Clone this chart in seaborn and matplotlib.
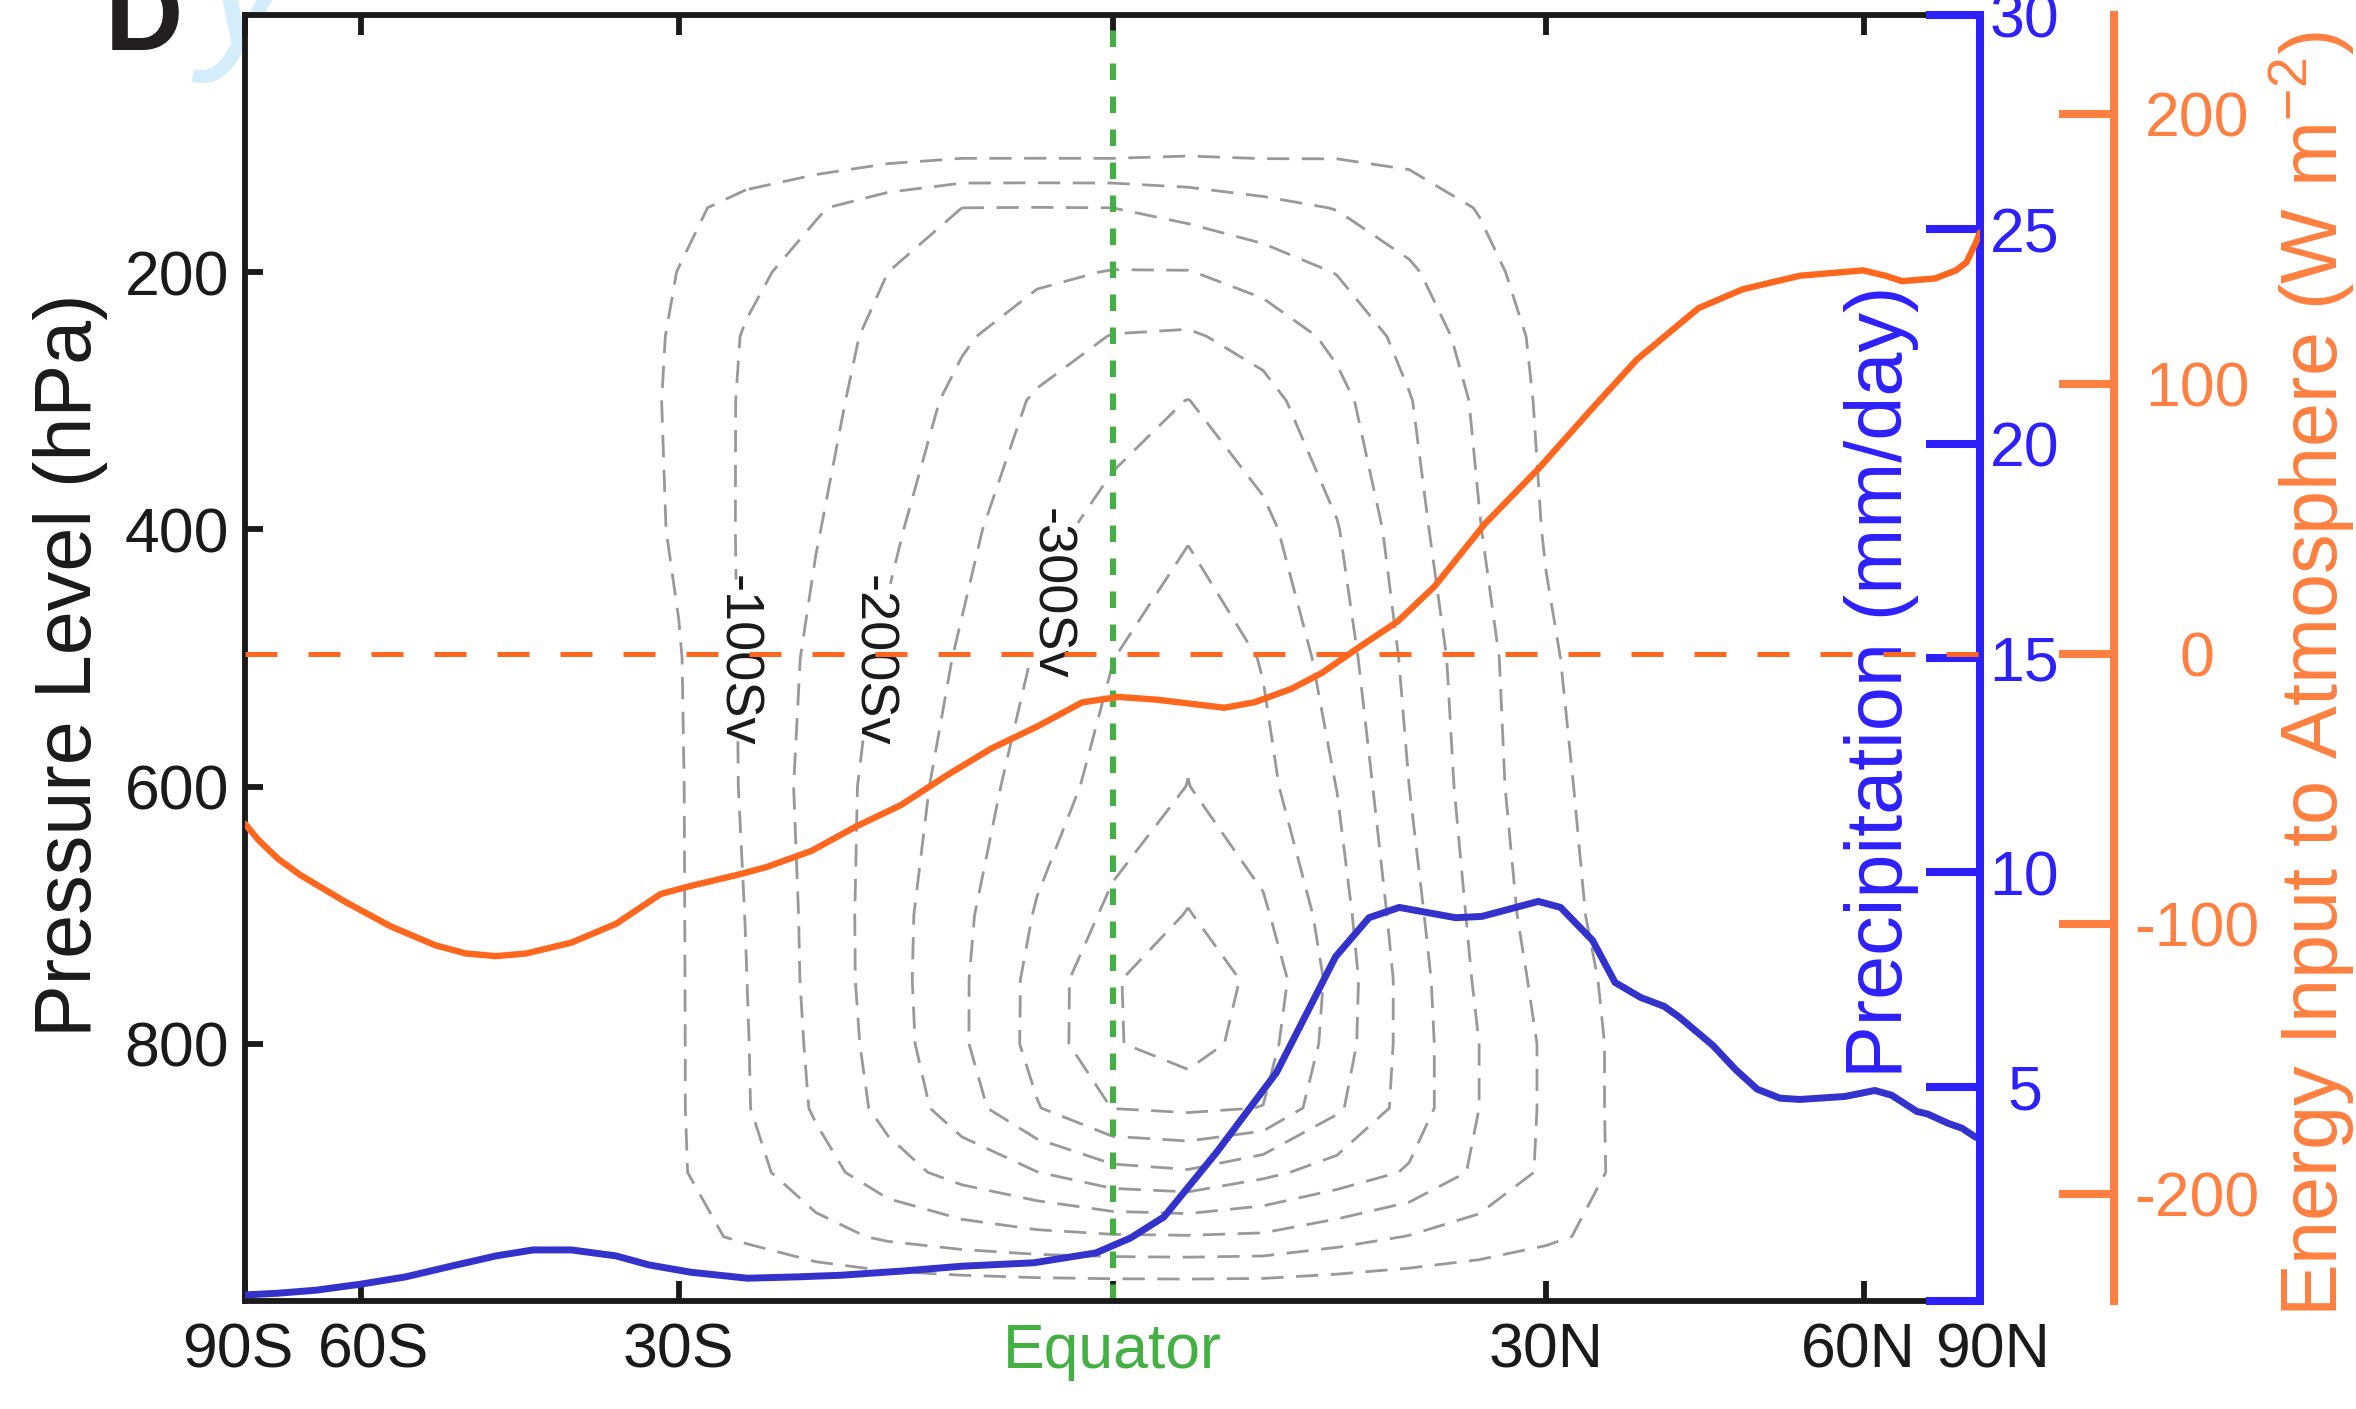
import numpy as np
import matplotlib
matplotlib.use("Agg")
import matplotlib.pyplot as plt
import matplotlib.transforms as mtransforms
import seaborn as sns

# mass streamfunction (Sv), rows = pressure levels (hPa), columns = latitude (deg)
psi_lat = [-40, -35, -30, -25, -20, -15, -10, -5, 0, 5, 10, 15, 20, 25, 30, 35, 40]
psi_plev = [100, 150, 200, 250, 300, 400, 500, 600, 700, 750, 800, 850, 900, 950, 1000]
psi = [
    [-2, -5, -8, -9, -8, -15, -20, -20, -20, -30, -30, -35, -35, -25, -12, -5, -2],
    [-3, -15, -38, -66, -95, -127, -150, -151, -150, -133, -115, -98, -72, -48, -25, -10, -3],
    [-6, -22, -51, -88, -120, -150, -170, -191, -202, -202, -178, -148, -107, -63, -30, -12, -4],
    [-5, -20, -58, -104, -132, -162, -194, -225, -252, -256, -232, -188, -133, -78, -38, -16, -5],
    [-5, -20, -61, -107, -136, -170, -213, -256, -279, -301, -266, -215, -153, -91, -40, -18, -5],
    [-6, -22, -57, -108, -147, -190, -237, -284, -317, -345, -312, -253, -169, -102, -46, -20, -6],
    [-8, -25, -47, -108, -162, -210, -256, -304, -349, -385, -347, -276, -187, -118, -58, -22, -8],
    [-10, -28, -45, -107, -170, -222, -272, -326, -368, -401, -364, -299, -200, -122, -65, -30, -12],
    [-10, -28, -45, -101, -166, -229, -289, -354, -411, -453, -408, -322, -218, -134, -74, -35, -15],
    [-10, -28, -45, -99, -165, -229, -293, -366, -445, -485, -434, -331, -227, -141, -84, -42, -18],
    [-10, -28, -45, -97, -161, -225, -293, -367, -445, -478, -420, -327, -228, -150, -92, -46, -20],
    [-10, -28, -45, -96, -156, -216, -276, -347, -401, -408, -399, -308, -228, -150, -92, -46, -20],
    [-10, -30, -45, -83, -130, -179, -218, -249, -285, -295, -262, -229, -195, -140, -91, -47, -20],
    [-5, -15, -38, -56, -82, -108, -125, -138, -145, -147, -143, -120, -98, -78, -58, -38, -15],
    [0, 0, 0, 0, 0, 0, 0, 0, 0, 0, 0, 0, 0, 0, 0, 0, 0],
]
psi_levels = [-450, -400, -350, -300, -250, -200, -150, -100, -50]

# zonal mean precipitation (mm/day)
precip_lat = [-90, -74.1, -66.7, -60.1, -54.6, -49.7, -45.3, -41.9, -38.6, -34.9,
              -32.3, -29.1, -24.9, -21.4, -18.2, -13.9, -10.0, -5.2, -1.1, 1.2,
              3.4, 6.9, 10.9, 14.9, 17.2, 19.3, 23.3, 25.2, 29.4, 31.1,
              33.6, 35.4, 37.5, 39.5, 40.8, 43.8, 45.9, 48.0, 50.3, 52.4,
              57.6, 61.5, 63.9, 68.0, 70.0, 74.5, 78.3, 84.2, 90]
precip = [0.14, 0.18, 0.25, 0.39, 0.56, 0.81, 1.05, 1.19, 1.19, 1.05,
          0.84, 0.67, 0.53, 0.56, 0.60, 0.70, 0.81, 0.89, 1.12, 1.47,
          1.96, 3.47, 5.33, 8.03, 8.94, 9.18, 8.94, 8.97, 9.32, 9.18,
          8.41, 7.43, 7.08, 6.87, 6.62, 5.96, 5.40, 4.94, 4.73, 4.70,
          4.77, 4.91, 4.80, 4.42, 4.36, 4.14, 4.03, 3.82, 3.79]

# net energy input to the atmosphere (W m-2)
energy_lat = [-90, -79.9, -74.1, -69.4, -62.1, -56.3, -51.3, -48.2, -45.3, -42.5,
              -38.6, -34.9, -31.4, -29.1, -25.7, -23.5, -20.3, -17.2, -14.1, -11.0,
              -8.0, -5.0, -2.0, 0.4, 2.9, 5.9, 7.4, 9.4, 11.9, 14.0,
              16.4, 19.2, 21.8, 25.4, 29.5, 33.6, 37.2, 42.5, 46.6, 52.4,
              59.9, 63.0, 65.5, 71.5, 76.5, 79.9, 84.2, 90]
energy = [-63, -69, -76, -82, -92, -101, -108, -111, -112, -111,
          -107, -100, -89, -86, -82, -79, -73, -64, -56, -45,
          -35, -27, -18, -16, -17, -19, -20, -18, -13, -7,
          2, 12, 25, 48, 69, 91, 109, 128, 135, 140,
          142, 140, 138, 139, 142, 145, 152, 156]

xtick_lat = [-90, -60, -30, 0, 30, 60, 90]
xtick_labels = ['90S', '60S', '30S', 'Equator', '30N', '60N', '90N']
p_ticks = [200, 400, 600, 800]
precip_ticks = [0, 5, 10, 15, 20, 25, 30]
precip_labels = ['', '5', '10', '15', '20', '25', '30']
energy_ticks = [-200, -100, 0, 100, 200]

BLUE_AX = '#2d20ff'
BLUE_LINE = '#3333cc'
ORANGE_AX = '#ff8040'
ORANGE_LINE = '#ff671f'
GREEN = '#44b044'
GREY = '#999999'
INK = '#1a1a1a'

sns.set_theme(style='white')
plt.rcParams['font.family'] = ['Liberation Sans', 'DejaVu Sans']
plt.rcParams['mathtext.fontset'] = 'custom'
plt.rcParams['mathtext.rm'] = 'Liberation Sans'
plt.rcParams['axes.unicode_minus'] = False


def sinlat(lat):
    return np.sin(np.radians(np.asarray(lat, dtype=float)))


fig = plt.figure(figsize=(11.78, 7.045), dpi=200)
ax = fig.add_axes([0.104, 0.0767, 0.7364, 0.9127])

# streamfunction contours, labelled on the -100, -200 and -300 lines
cs = ax.contour(sinlat(psi_lat), psi_plev, np.array(psi, dtype=float), levels=psi_levels,
                colors=GREY, linewidths=1.0, linestyles=[(0, (8, 4.5))])
label_at = [(-25.9, 502), (-16.1, 502), (-3.0, 459)]
texts = ax.clabel(cs, inline=True, inline_spacing=4, fmt='%dSv', fontsize=19.5, colors=INK,
                  manual=[(float(sinlat(la)), p) for la, p in label_at])
for t in texts:
    t.set_rotation(270)

ax.axvline(0, color=GREEN, lw=2.2, dashes=(2.7, 2.7))

ax.set_xlim(-1, 1)
ax.set_ylim(1000, 0)
ax.set_xticks(sinlat(xtick_lat))
ax.set_xticklabels(xtick_labels)
ax.set_yticks(p_ticks)
ax.tick_params(axis='x', direction='in', length=7.2, width=2.1, top=True, bottom=True,
               labelsize=22.5, pad=7.5, colors=INK)
ax.tick_params(axis='y', direction='in', length=6.5, width=2.1, labelsize=22.5,
               pad=5.8, colors=INK)
ax.get_xticklabels()[3].set_color(GREEN)
# crowded pole labels are pushed apart a little, as in the original
for lab, dx in zip(ax.get_xticklabels(), [-7, 12, 0, 0, 0, -5, 13]):
    lab.set_transform(lab.get_transform()
                      + mtransforms.ScaledTranslation(dx / 200, 0, fig.dpi_scale_trans))
for side in ['top', 'bottom', 'left']:
    ax.spines[side].set_color(INK)
    ax.spines[side].set_linewidth(2.1)
ax.spines['right'].set_visible(False)
ax.set_ylabel('Pressure Level (hPa)', fontsize=28.5, color=INK, va='center')
ax.yaxis.set_label_coords(-0.1007, 0.4946)

# precipitation axis
ax2 = ax.twinx()
sns.lineplot(x=sinlat(precip_lat), y=precip, ax=ax2, color=BLUE_LINE, lw=2.5)
ax2.set_ylim(0, 30)
ax2.set_yticks(precip_ticks)
ax2.set_yticklabels(precip_labels)
ax2.tick_params(axis='y', direction='in', length=19.5, width=2.9, colors=BLUE_AX,
                labelsize=22.5, pad=16)
plt.setp(ax2.get_yticklabels(), ha='center')
for side in ['top', 'bottom', 'left']:
    ax2.spines[side].set_visible(False)
ax2.spines['right'].set_color(BLUE_AX)
ax2.spines['right'].set_linewidth(2.9)
ax2.set_ylabel('Precipitation (mm/day)', fontsize=28.5, color=BLUE_AX, va='center')
ax2.yaxis.set_label_coords(0.943, 0.4813)

# energy input axis
ax3 = ax.twinx()
ax3.spines['right'].set_position(('axes', 1.0772))
sns.lineplot(x=sinlat(energy_lat), y=energy, ax=ax3, color=ORANGE_LINE, lw=2.3)
ax3.axhline(0, color=ORANGE_LINE, lw=1.8, dashes=(6.4, 6.2))
ax3.set_ylim(-239.7, 236.6)
ax3.set_yticks(energy_ticks)
ax3.tick_params(axis='y', direction='in', length=19.8, width=2.9, colors=ORANGE_AX,
                labelsize=22.5, pad=30)
plt.setp(ax3.get_yticklabels(), ha='center')
for side in ['top', 'bottom', 'left']:
    ax3.spines[side].set_visible(False)
ax3.spines['right'].set_color(ORANGE_AX)
ax3.spines['right'].set_linewidth(2.9)
ax3.set_ylabel('Energy Input to Atmosphere (W m$^{-2}$)', fontsize=28.5,
               color=ORANGE_AX, va='center')
ax3.yaxis.set_label_coords(1.1914, 0.4876)
ax3.set_xlim(-1, 1)

# panel letter, with the faint glyph that peeks out behind it
fig.text(0.0855, 0.968, 'y', fontsize=66, style='italic', color='#d3eefa', va='baseline',
         zorder=-1)
fig.text(0.0445, 0.9645, 'D', fontsize=39, fontweight='bold', color='#231f20', va='baseline')

fig.savefig('out.png', dpi=200)
print("saved out.png")
